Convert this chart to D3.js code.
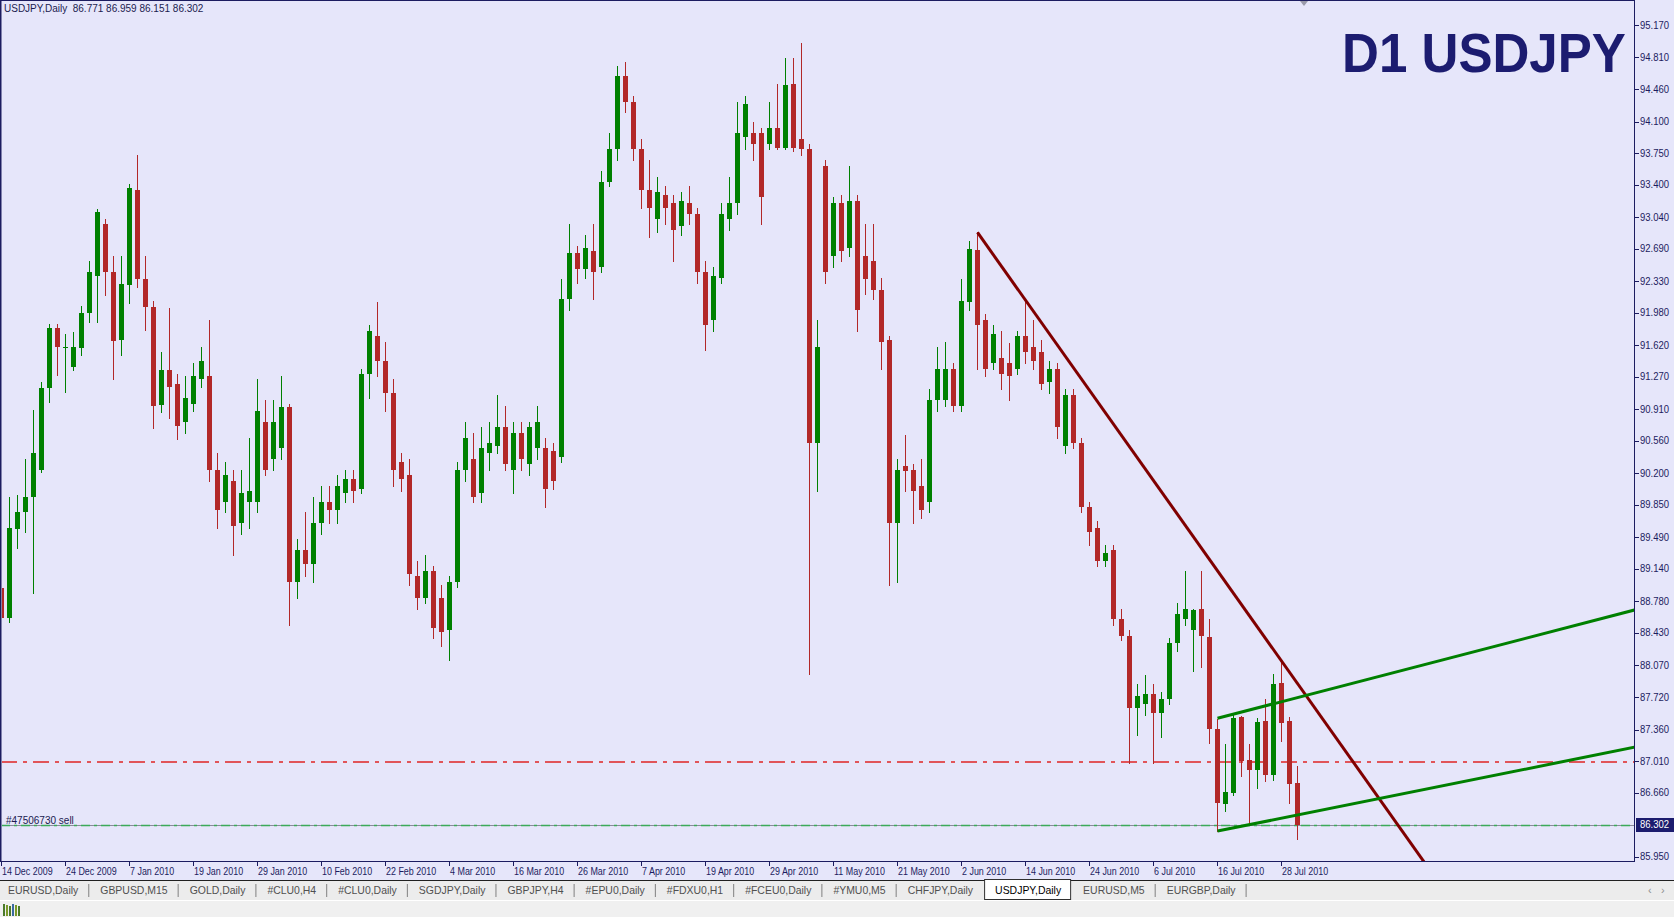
<!DOCTYPE html>
<html>
<head>
<meta charset="utf-8">
<script src="https://cdnjs.cloudflare.com/ajax/libs/d3/7.8.5/d3.min.js"></script>
<style>
	body {margin:0; background:#f0f0f0; overflow:hidden}
	svg {display:block}
	text {font-family:"Liberation Sans", Arial, sans-serif}
</style>
</head>
<body>
<svg id="chart"></svg>
<script>
//Base SVG values
let width = 1674
let height = 917

let plot = {left:1, top:1, right:1634, bottom:861}

//Daily bars, 14 Dec 2009 -> 30 Jul 2010 (index 0..162)
let opens = [
	88.93, 88.60, 89.58, 89.77, 89.94, 90.24, 91.15, 91.81, 91.59, 91.38,
	91.59, 91.98, 92.39, 92.96, 92.43, 91.68, 92.29, 93.34, 92.35, 92.04,
	90.96, 91.35, 91.19, 90.77, 90.97, 91.25, 91.28, 90.24, 89.88, 90.12,
	89.65, 89.88, 89.88, 90.77, 90.36, 90.48, 90.93, 89.00, 89.35, 89.20,
	89.65, 89.88, 89.79, 89.98, 90.14, 90.03, 91.30, 91.72, 91.45, 91.09,
	90.33, 90.18, 89.06, 88.82, 89.12, 88.82, 88.46, 89.00, 90.24, 90.36,
	89.98, 90.42, 90.50, 90.71, 90.24, 90.65, 90.30, 90.48, 90.48, 90.45,
	90.38, 92.13, 92.64, 92.47, 92.67, 92.49, 93.43, 93.79, 94.60, 94.32,
	93.79, 93.34, 93.02, 93.29, 93.20, 92.94, 93.20, 93.08, 92.43, 91.90,
	92.37, 93.02, 93.20, 93.93, 93.97, 93.97, 93.85, 94.03, 93.81, 94.52,
	93.91, 93.79, 90.54, 93.61, 92.61, 93.20, 92.70, 93.22, 92.61, 92.55,
	92.23, 91.68, 89.65, 90.28, 90.24, 90.06, 89.88, 91.01, 91.01, 91.36,
	90.95, 92.10, 92.68, 91.90, 91.42, 91.48, 91.42, 91.36, 91.72, 91.60,
	91.54, 91.21, 91.36, 90.50, 91.07, 90.54, 89.83, 89.59, 89.23, 89.35,
	88.58, 88.40, 87.60, 87.64, 87.75, 87.54, 87.70, 88.32, 88.58, 88.46,
	88.70, 88.38, 87.37, 86.53, 86.66, 87.50, 87.02, 86.91, 87.45, 86.86,
	87.88, 87.45, 86.771
]
let highs = [
	89.29, 89.94, 89.96, 90.36, 90.90, 91.21, 91.86, 91.86, 91.75, 91.77,
	92.05, 92.55, 93.13, 93.02, 92.61, 92.61, 93.41, 93.73, 92.61, 92.11,
	91.54, 92.03, 91.30, 91.28, 91.42, 91.60, 91.90, 90.42, 90.33, 90.24,
	90.24, 90.59, 91.25, 91.01, 91.01, 91.28, 90.97, 89.47, 89.77, 89.94,
	90.06, 90.06, 90.18, 90.24, 90.24, 91.36, 91.84, 92.10, 91.66, 91.25,
	90.42, 90.36, 89.23, 89.29, 89.17, 88.96, 89.06, 90.33, 90.77, 90.65,
	90.71, 90.77, 91.07, 90.95, 90.77, 90.77, 90.77, 90.95, 90.59, 90.54,
	92.35, 92.96, 92.72, 92.84, 92.96, 93.55, 93.97, 94.71, 94.76, 94.38,
	93.91, 93.67, 93.49, 93.38, 93.29, 93.32, 93.38, 93.14, 92.55, 92.49,
	93.20, 93.49, 94.32, 94.38, 94.09, 94.03, 94.32, 94.52, 94.80, 94.80,
	94.97, 93.85, 91.90, 93.67, 93.26, 93.28, 93.61, 93.28, 92.96, 92.96,
	92.37, 91.72, 90.36, 90.62, 90.30, 90.36, 91.13, 91.60, 91.66, 91.42,
	92.35, 92.78, 92.87, 91.97, 91.84, 91.78, 91.64, 91.78, 92.10, 91.90,
	91.68, 91.45, 91.42, 91.13, 91.13, 90.59, 89.88, 89.67, 89.41, 89.41,
	88.70, 88.46, 87.87, 87.96, 87.87, 87.78, 88.37, 88.76, 89.12, 88.70,
	89.12, 88.58, 87.48, 87.20, 87.52, 87.51, 87.20, 87.49, 87.70, 87.97,
	88.11, 87.50, 86.959
]
let lows = [
	88.29, 88.55, 89.37, 89.55, 88.87, 90.22, 90.99, 91.29, 91.10, 91.34,
	91.51, 91.88, 91.88, 92.18, 91.25, 91.51, 92.09, 92.26, 91.79, 90.70,
	90.88, 90.81, 90.58, 90.65, 90.89, 91.16, 90.12, 89.59, 89.77, 89.29,
	89.53, 89.59, 89.77, 90.18, 90.24, 90.36, 88.52, 88.82, 89.06, 89.00,
	89.53, 89.65, 89.65, 89.88, 89.88, 89.98, 91.04, 91.28, 90.89, 90.06,
	90.00, 88.96, 88.70, 88.76, 88.37, 88.29, 88.13, 88.94, 90.12, 89.88,
	89.88, 90.24, 90.42, 90.24, 89.98, 90.24, 90.18, 90.36, 89.83, 90.03,
	90.33, 92.01, 92.31, 92.37, 92.13, 92.43, 93.38, 93.67, 94.20, 93.67,
	93.14, 92.82, 92.87, 92.96, 92.55, 92.84, 92.96, 92.31, 91.57, 91.78,
	92.31, 92.90, 93.08, 93.79, 93.67, 92.96, 93.79, 93.79, 93.79, 93.77,
	93.73, 87.97, 90.00, 92.31, 92.49, 92.55, 92.61, 91.78, 92.19, 92.13,
	91.36, 88.96, 89.00, 90.00, 89.65, 89.71, 89.77, 90.89, 90.95, 90.89,
	90.89, 92.01, 91.36, 91.28, 91.36, 91.13, 91.01, 91.30, 91.42, 91.36,
	91.13, 91.09, 90.59, 90.42, 90.48, 89.77, 89.41, 89.17, 89.17, 88.52,
	88.35, 86.99, 87.30, 87.52, 86.99, 87.28, 87.64, 88.23, 88.52, 88.01,
	88.05, 87.21, 86.23, 86.46, 86.63, 86.85, 86.32, 86.71, 86.79, 86.80,
	87.23, 86.55, 86.151
]
let closes = [
	88.60, 89.59, 89.77, 89.94, 90.42, 91.15, 91.81, 91.60, 91.60, 91.60,
	91.98, 92.43, 93.10, 92.43, 91.67, 92.30, 93.36, 92.35, 92.04, 90.95,
	91.34, 91.16, 90.72, 91.04, 91.28, 91.45, 90.24, 89.79, 90.18, 89.62,
	89.98, 90.00, 90.89, 90.24, 90.77, 90.93, 89.00, 89.35, 89.20, 89.65,
	89.88, 89.79, 90.06, 90.14, 90.00, 91.30, 91.78, 91.45, 91.09, 90.24,
	90.14, 89.08, 88.82, 89.12, 88.49, 88.44, 89.00, 90.24, 90.59, 89.94,
	90.48, 90.54, 90.71, 90.30, 90.65, 90.36, 90.71, 90.77, 90.03, 90.12,
	92.13, 92.64, 92.47, 92.70, 92.43, 93.43, 93.79, 94.60, 94.32, 93.79,
	93.34, 93.14, 93.32, 93.14, 92.90, 93.22, 93.08, 92.43, 91.84, 92.39,
	93.08, 93.20, 93.97, 94.29, 93.85, 93.26, 94.03, 93.81, 94.50, 93.81,
	93.79, 90.54, 91.60, 92.43, 93.20, 92.67, 93.22, 92.01, 92.35, 92.23,
	91.66, 89.65, 90.24, 90.23, 90.00, 89.79, 91.01, 91.36, 91.36, 90.95,
	92.11, 92.69, 91.84, 91.36, 91.75, 91.30, 91.28, 91.72, 91.54, 91.45,
	91.19, 91.36, 90.71, 91.07, 90.54, 89.83, 89.55, 89.23, 89.32, 88.58,
	88.40, 87.60, 87.73, 87.75, 87.54, 87.70, 88.32, 88.64, 88.70, 88.68,
	88.40, 87.37, 86.55, 86.67, 87.49, 87.01, 86.91, 87.44, 86.86, 87.87,
	87.43, 86.76, 86.302
]

//Axis labels
let priceTicks = ["95.170","94.810","94.460","94.100","93.750","93.400","93.040","92.690","92.330",
	"91.980","91.620","91.270","90.910","90.560","90.200","89.850","89.490","89.140","88.780",
	"88.430","88.070","87.720","87.360","87.010","86.660","85.950"]
let dateTickBars = [0, 8, 16, 24, 32, 40, 48, 56, 64, 72, 80, 88, 96, 104, 112, 120, 128, 136, 144, 152, 160]
let dateTickLabels = ["14 Dec 2009","24 Dec 2009","7 Jan 2010","19 Jan 2010","29 Jan 2010","10 Feb 2010",
	"22 Feb 2010","4 Mar 2010","16 Mar 2010","26 Mar 2010","7 Apr 2010","19 Apr 2010","29 Apr 2010",
	"11 May 2010","21 May 2010","2 Jun 2010","14 Jun 2010","24 Jun 2010","6 Jul 2010","16 Jul 2010","28 Jul 2010"]

//Drawn objects (bar index, price)
let downTrend = [[122, 92.87], [160, 88.12]]
let channelTop = [[152, 87.484], [204.125, 88.685]]
let channelBottom = [[152, 86.234], [204.125, 87.164]]
let levelLine = 87.00
let bidPrice = 86.302
let orderLabel = "#47506730 sell"
let tabs = ["EURUSD,Daily","GBPUSD,M15","GOLD,Daily","#CLU0,H4","#CLU0,Daily","SGDJPY,Daily","GBPJPY,H4",
	"#EPU0,Daily","#FDXU0,H1","#FCEU0,Daily","#YMU0,M5","CHFJPY,Daily","USDJPY,Daily","EURUSD,M5","EURGBP,Daily"]
let activeTab = 12

let bars = opens.map((o,i) => ({i:i, o:o, h:highs[i], l:lows[i], c:closes[i]}))

//Scales
let xScale = d3.scaleLinear().domain([0,162]).range([1,1297])
let yScale = d3.scaleLinear().domain([85.95,95.17]).range([856.7,25])

let svg = d3.select("#chart")
	.attr("width", width)
	.attr("height", height)

//narrow a text the way Tahoma looks
function condense(sel, k) {
	sel.each(function(){
		let w = this.getComputedTextLength()
		d3.select(this).attr("textLength", w*k).attr("lengthAdjust","spacingAndGlyphs")
	})
}

//Chart background
svg.append("rect")
	.attr("x",0).attr("y",0)
	.attr("width",width).attr("height",880)
	.attr("fill","#e6e6fa")

svg.append("defs").append("clipPath")
	.attr("id","plotclip")
  .append("rect")
	.attr("x",plot.left+1).attr("y",plot.top+1)
	.attr("width",plot.right-plot.left-1).attr("height",plot.bottom-plot.top-1)

let g = svg.append("g").attr("clip-path","url(#plotclip)")

//Horizontal level (red dash-dot)
let levelY = Math.round(yScale(levelLine))
g.append("line")
	.attr("x1",plot.left).attr("x2",plot.right)
	.attr("y1",levelY).attr("y2",levelY)
	.attr("stroke","#e02424")
	.attr("stroke-width",1.5)
	.attr("stroke-dasharray","16,6,4,6")

//Bid line + order line
let bidY = Math.round(yScale(bidPrice))+0.5
g.append("line")
	.attr("x1",plot.left).attr("x2",plot.right)
	.attr("y1",bidY).attr("y2",bidY)
	.attr("stroke","#8a8a9a")
g.append("line")
	.attr("x1",plot.left).attr("x2",plot.right)
	.attr("y1",bidY).attr("y2",bidY)
	.attr("stroke","#3caa5a")
	.attr("stroke-width",1.6)
	.attr("stroke-dasharray","9,4,3,4")

//Candles
let candle = g.selectAll("g.candle")
	.data(bars)
	.enter()
	.append("g")
	.attr("class","candle")
	.attr("fill", d => d.c >= d.o ? "#008000" : "#b22828")
	.attr("stroke", d => d.c >= d.o ? "#008000" : "#b22828")

candle.append("line")
	.attr("x1", d => xScale(d.i)+0.5)
	.attr("x2", d => xScale(d.i)+0.5)
	.attr("y1", d => Math.round(yScale(d.h)))
	.attr("y2", d => Math.round(yScale(d.l))+1)
	.attr("stroke-width",1)

candle.append("rect")
	.attr("x", d => xScale(d.i)-2)
	.attr("y", d => Math.round(yScale(Math.max(d.o,d.c))))
	.attr("width",5)
	.attr("height", d => Math.max(1, Math.round(yScale(Math.min(d.o,d.c))) - Math.round(yScale(Math.max(d.o,d.c)))))
	.attr("stroke","none")

//Trend lines
function drawTrend(pts, color, w, ray) {
	let p0 = pts[0], p1 = pts[1]
	let end = p1
	if (ray) {
		let slope = (p1[1]-p0[1])/(p1[0]-p0[0])
		end = [p0[0]+100, p0[1]+slope*100]
	}
	g.append("line")
		.attr("x1",xScale(p0[0])+0.5).attr("y1",yScale(p0[1]))
		.attr("x2",xScale(end[0])+0.5).attr("y2",yScale(end[1]))
		.attr("stroke",color)
		.attr("stroke-width",w)
}
drawTrend(downTrend, "#800000", 3, true)
drawTrend(channelTop, "#008000", 3, false)
drawTrend(channelBottom, "#008000", 3, false)

//Order label
svg.append("text")
	.attr("x",6).attr("y",bidY-2)
	.attr("font-size",10)
	.attr("fill","#1a1a50")
	.text(orderLabel)

//Frame
svg.append("line").attr("x1",0.5).attr("x2",0.5).attr("y1",0).attr("y2",plot.bottom+0.5)
	.attr("stroke","#1c1c60").attr("stroke-width",2)
svg.append("line").attr("x1",0).attr("x2",plot.right).attr("y1",0.5).attr("y2",0.5)
	.attr("stroke","#1c1c60")
svg.append("line").attr("x1",plot.right+0.5).attr("x2",plot.right+0.5).attr("y1",0).attr("y2",plot.bottom+1)
	.attr("stroke","#1c1c60")
svg.append("line").attr("x1",0).attr("x2",plot.right+1).attr("y1",plot.bottom+0.5).attr("y2",plot.bottom+0.5)
	.attr("stroke","#1c1c60")

//Price axis
let pAxis = svg.append("g").attr("class","axis")
pAxis.selectAll("line")
	.data(priceTicks)
	.enter()
	.append("line")
	.attr("x1",plot.right+1).attr("x2",plot.right+5)
	.attr("y1", d => Math.round(yScale(+d))+0.5)
	.attr("y2", d => Math.round(yScale(+d))+0.5)
	.attr("stroke","#1c1c60")
pAxis.selectAll("text")
	.data(priceTicks)
	.enter()
	.append("text")
	.attr("x",plot.right+6)
	.attr("y", d => yScale(+d)+3.5)
	.attr("font-size",10)
	.attr("fill","#1c1c60")
	.text(d => d)
	.call(condense, 0.95)

//Current price box
svg.append("rect")
	.attr("x",plot.right+2).attr("y",Math.round(yScale(bidPrice))-7)
	.attr("width",38).attr("height",14)
	.attr("fill","#1c1c6e")
svg.append("text")
	.attr("x",plot.right+6).attr("y",yScale(bidPrice)+3.5)
	.attr("font-size",10)
	.attr("fill","#ffffff")
	.text(bidPrice.toFixed(3))
	.call(condense, 0.95)

//Date axis
let dAxis = svg.append("g").attr("class","axis")
dAxis.selectAll("line")
	.data(dateTickBars)
	.enter()
	.append("line")
	.attr("x1", d => xScale(d)+0.5).attr("x2", d => xScale(d)+0.5)
	.attr("y1",plot.bottom+1).attr("y2",plot.bottom+5)
	.attr("stroke","#1c1c60")
dAxis.selectAll("text")
	.data(dateTickBars)
	.enter()
	.append("text")
	.attr("x", d => xScale(d)+1)
	.attr("y",875)
	.attr("font-size",10.5)
	.attr("fill","#1c1c60")
	.text((d,i) => dateTickLabels[i])
	.call(condense, 0.85)

//Header and title
svg.append("text")
	.attr("x",4).attr("y",12)
	.attr("font-size",10)
	.attr("fill","#1c1c50")
	.style("white-space","pre")
	.text("USDJPY,Daily  " + [opens[162], highs[162], lows[162], closes[162]].map(v => v.toFixed(3)).join(" "))

let title = svg.append("text")
	.attr("font-size",56)
	.attr("font-weight","bold")
	.attr("fill","#1c1c70")
	.text("D1 USDJPY")
let tw = title.node().getComputedTextLength()
title.attr("transform", `translate(1342,72) scale(${284/tw},1)`)

//Chart shift marker
svg.append("path")
	.attr("d","M1300,1 L1308,1 L1304,6 Z")
	.attr("fill","#9a9aaa")

//Tab bar
svg.append("rect").attr("x",0).attr("y",880).attr("width",width).attr("height",20).attr("fill","#ececec")
svg.append("line").attr("x1",0).attr("x2",width).attr("y1",880.5).attr("y2",880.5).attr("stroke","#202020")
svg.append("line").attr("x1",0).attr("x2",width).attr("y1",900.5).attr("y2",900.5).attr("stroke","#ffffff")

let tabG = svg.append("g")
let tx = 8
tabs.forEach(function(t, i){
	let label = tabG.append("text")
		.attr("x",tx).attr("y",894)
		.attr("font-size",11)
		.attr("fill", i === activeTab ? "#000000" : "#505050")
		.text(t)
	let w = label.node().getComputedTextLength()*0.95
	label.attr("textLength", w).attr("lengthAdjust","spacingAndGlyphs")
	if (i === activeTab) {
		tabG.insert("rect","text")
			.attr("x",tx-10.5).attr("y",879.5)
			.attr("width",w+20).attr("height",20)
			.attr("fill","#ffffff").attr("stroke","#303030")
	} else if (i+1 !== activeTab) {
		tabG.append("line")
			.attr("x1",tx+w+10.5).attr("x2",tx+w+10.5)
			.attr("y1",884).attr("y2",897)
			.attr("stroke","#808080")
	}
	tx += w + 22
})
svg.append("text").attr("x",1648).attr("y",894).attr("font-size",11).attr("fill","#909090").text("\u2039")
svg.append("text").attr("x",1661).attr("y",894).attr("font-size",11).attr("fill","#909090").text("\u203A")

//Status icon
let iconCols = ["#4a7a2a","#7a9a2a","#4a7a2a","#3a6aa0","#7a9a2a","#4a7a2a"]
svg.selectAll("rect.icon")
	.data(iconCols)
	.enter()
	.append("rect")
	.attr("class","icon")
	.attr("x",(d,i) => 3+i*3).attr("y",(d,i) => 904+(i%3))
	.attr("width",2).attr("height",(d,i) => 12-(i%3))
	.attr("fill",d => d)
</script>
</body>
</html>
